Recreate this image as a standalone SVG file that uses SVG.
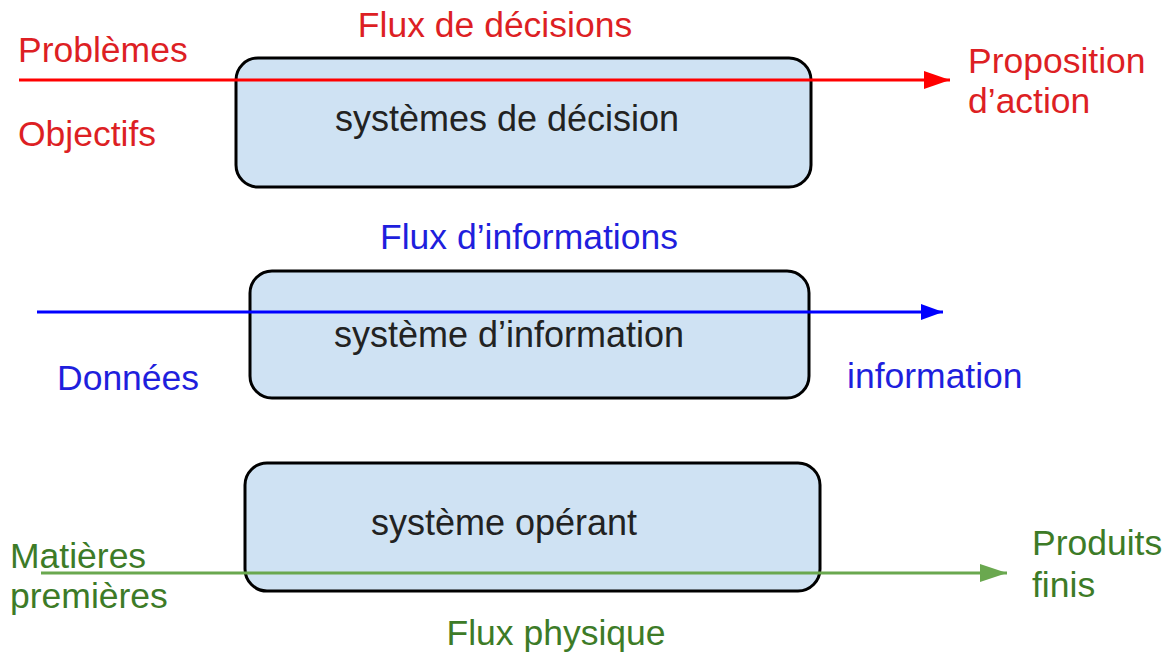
<svg xmlns="http://www.w3.org/2000/svg" width="1172" height="658" viewBox="0 0 1172 658">
<style>
text{font-family:"Liberation Sans",Arial,sans-serif;font-size:35.5px}
.box{fill:#cfe2f3;stroke:#000;stroke-width:3}
.bt{fill:#222;text-anchor:middle;font-size:36px}
.red{fill:#dd1f24}
.blue{fill:#1f1fdd}
.green{fill:#3d7b27}
.ln{stroke-width:3;fill:none}
</style>
<defs>
<marker id="ar" markerUnits="userSpaceOnUse" markerWidth="27" markerHeight="18" refX="26" refY="9" orient="auto"><path d="M0,0 L26,9 L0,18 z" fill="#ff0000"/></marker>
<marker id="ab" markerUnits="userSpaceOnUse" markerWidth="23" markerHeight="16" refX="22" refY="8" orient="auto"><path d="M0,0 L22,8 L0,16 z" fill="#0000ff"/></marker>
<marker id="ag" markerUnits="userSpaceOnUse" markerWidth="28" markerHeight="18" refX="27" refY="9" orient="auto"><path d="M0,0 L27,9 L0,18 z" fill="#6aa84f"/></marker>
</defs>
<rect width="1172" height="658" fill="#fff"/>
<g id="decision">
<rect class="box" x="236" y="58" width="575" height="129" rx="22"/>
<text class="bt" x="507" y="131">systèmes de décision</text>
</g>
<g id="information">
<rect class="box" x="250" y="271" width="559" height="127" rx="22"/>
<text class="bt" x="509" y="347">système d’information</text>
</g>
<g id="operant">
<rect class="box" x="245" y="463" width="575" height="128" rx="22"/>
<text class="bt" x="504" y="535">système opérant</text>
</g>
<g id="connectors">
<line class="ln" x1="19" y1="80" x2="950" y2="80" stroke="#ff0000" marker-end="url(#ar)"/>
<line class="ln" x1="37" y1="312" x2="943" y2="312" stroke="#0000ff" marker-end="url(#ab)"/>
<line class="ln" x1="41" y1="573" x2="1007" y2="573" stroke="#6aa84f" marker-end="url(#ag)"/>
</g>
<g id="labels">
<text class="red" x="495" y="37" text-anchor="middle">Flux de décisions</text>
<text class="red" x="18" y="62">Problèmes</text>
<text class="red" x="18" y="146">Objectifs</text>
<text class="red" x="968" y="73">Proposition</text>
<text class="red" x="968" y="113">d’action</text>
<text class="blue" x="529" y="249" text-anchor="middle">Flux d’informations</text>
<text class="blue" x="57" y="390">Données</text>
<text class="blue" x="847" y="388">information</text>
<text class="green" x="10" y="568">Matières</text>
<text class="green" x="10" y="608">premières</text>
<text class="green" x="1032" y="555">Produits</text>
<text class="green" x="1032" y="597">finis</text>
<text class="green" x="556" y="645" text-anchor="middle">Flux physique</text>
</g>
</svg>
